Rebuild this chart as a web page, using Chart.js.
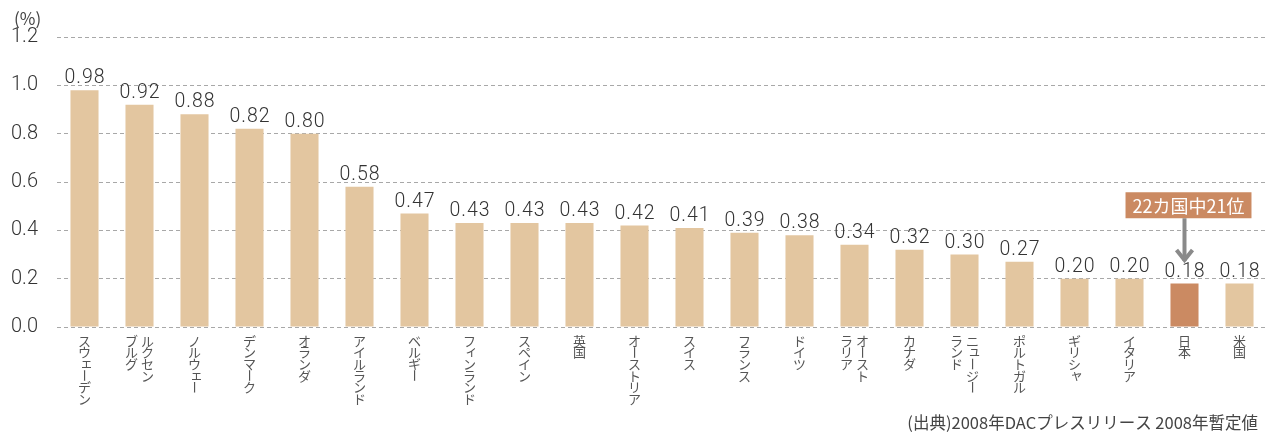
<!DOCTYPE html>
<html lang="ja">
<head>
<meta charset="UTF-8">
<title>ODA 対GNI比</title>
<script src="https://cdn.jsdelivr.net/npm/chart.js"></script>
<style>
  html, body { margin: 0; padding: 0; background: #fff; }
  #wrap { width: 1273px; height: 432px; position: relative; }
</style>
</head>
<body>
<div id="wrap"><canvas id="odaChart"></canvas></div>
<script>
// each label is a list of vertical columns, right column first
const countries = [
  ["スウェーデン"], ["ルクセン", "ブルグ"], ["ノルウェー"], ["デンマーク"], ["オランダ"],
  ["アイルランド"], ["ベルギー"], ["フィンランド"], ["スペイン"], ["英国"],
  ["オーストリア"], ["スイス"], ["フランス"], ["ドイツ"], ["オースト", "ラリア"],
  ["カナダ"], ["ニュージー", "ランド"], ["ポルトガル"], ["ギリシャ"], ["イタリア"],
  ["日本"], ["米国"]
];
const odaRatio = [0.98, 0.92, 0.88, 0.82, 0.80, 0.58, 0.47, 0.43, 0.43, 0.43, 0.42,
  0.41, 0.39, 0.38, 0.34, 0.32, 0.30, 0.27, 0.20, 0.20, 0.18, 0.18];
const yTicks = [0, 0.2, 0.4, 0.6, 0.8, 1.0, 1.2];
const japanIndex = 20;
const rankText = "22カ国中21位";
const rankBoxBottom = 0.45;   // y value where the note box ends
const rankArrowTip = 0.265;   // y value where the arrow points to
const unitText = "(%)";
const sourceText = "(出典)2008年DACプレスリリース 2008年暫定値";

const BAR = "#e3c6a0";
const BAR_JP = "#cb8a62";
const NUM_FONT = "300 19.5px Roboto, 'Liberation Sans', sans-serif";
const JP_FONT = "'Noto Sans CJK JP', sans-serif";
const smallKana = "ァィゥェォッャュョ";

const overlay = {
  id: "overlay",
  afterDraw(chart) {
    const ctx = chart.ctx;
    const x = chart.scales.x, y = chart.scales.y;
    const area = chart.chartArea;
    const bars = chart.getDatasetMeta(0).data;
    ctx.save();

    // value labels
    ctx.font = NUM_FONT;
    ctx.letterSpacing = "1px";
    ctx.fillStyle = "#333";
    ctx.textAlign = "center";
    ctx.textBaseline = "bottom";
    bars.forEach((b, i) => ctx.fillText(odaRatio[i].toFixed(2), b.x + 0.5, b.y - 2));
    ctx.letterSpacing = "0px";

    // vertical category names
    ctx.font = "13px " + JP_FONT;
    ctx.fillStyle = "#555";
    ctx.textBaseline = "middle";
    const pitch = 11.6, top = area.bottom + 8;
    countries.forEach((cols, i) => {
      const cx = x.getPixelForValue(i);
      cols.forEach((col, c) => {
        const colX = cx + (cols.length - 1) * 8 - c * 16;
        [...col].forEach((ch, k) => {
          let px = colX, py = top + pitch * (k + 0.5);
          if (ch === "ー") {
            ctx.save();
            ctx.translate(px, py);
            ctx.rotate(Math.PI / 2);
            ctx.fillText(ch, 0, 0);
            ctx.restore();
            return;
          }
          if (smallKana.includes(ch)) { px += 2; py -= 2; }
          ctx.fillText(ch, px, py);
        });
      });
    });

    // unit and source
    ctx.font = "17px " + JP_FONT;
    ctx.fillStyle = "#444";
    ctx.textAlign = "left";
    ctx.fillText(unitText, 14, 19);
    ctx.font = "16.5px " + JP_FONT;
    ctx.textAlign = "right";
    ctx.textBaseline = "alphabetic";
    ctx.fillText(sourceText, 1258, 429);

    // rank note with arrow
    const jx = x.getPixelForValue(japanIndex);
    const boxBottom = y.getPixelForValue(rankBoxBottom);
    const tip = y.getPixelForValue(rankArrowTip);
    ctx.font = "18px " + JP_FONT;
    const w = ctx.measureText(rankText).width + 14, h = 26;
    ctx.fillStyle = BAR_JP;
    ctx.fillRect(jx - w / 2 + 4, boxBottom - h, w, h);
    ctx.fillStyle = "#fff";
    ctx.textAlign = "center";
    ctx.textBaseline = "middle";
    ctx.fillText(rankText, jx + 4, boxBottom - h / 2 + 1);

    ctx.strokeStyle = "#8a8a8a";
    ctx.lineWidth = 4;
    ctx.beginPath();
    ctx.moveTo(jx, boxBottom);
    ctx.lineTo(jx, tip - 2);
    ctx.stroke();
    ctx.beginPath();
    ctx.moveTo(jx - 8, tip - 13);
    ctx.lineTo(jx, tip - 3);
    ctx.lineTo(jx + 8, tip - 13);
    ctx.stroke();
    ctx.restore();
  }
};

new Chart(document.getElementById("odaChart"), {
  type: "bar",
  data: {
    labels: countries.map((c) => c.join("")),
    datasets: [{
      data: odaRatio,
      backgroundColor: odaRatio.map((v, i) => (i === japanIndex ? BAR_JP : BAR)),
      barPercentage: 0.51,
      categoryPercentage: 1
    }]
  },
  options: {
    responsive: true,
    maintainAspectRatio: false,
    animation: false,
    layout: { padding: { top: 37, right: 6, left: 0, bottom: 0 } },
    plugins: { legend: { display: false }, tooltip: { enabled: false } },
    scales: {
      x: {
        grid: { display: false },
        border: { display: false },
        ticks: { display: false },
        afterFit(scale) { scale.height = 105; }
      },
      y: {
        min: 0,
        max: 1.2,
        afterBuildTicks(scale) { scale.ticks = yTicks.map((v) => ({ value: v })); },
        afterFit(scale) { scale.width = 57; },
        border: { display: false, dash: [4, 3] },
        grid: { color: "#a8a8a8", lineWidth: 1, drawTicks: false },
        ticks: {
          padding: 19,
          color: "#333",
          font: { family: "Roboto, 'Liberation Sans', sans-serif", size: 20, weight: 300 },
          callback: (v) => v.toFixed(1)
        }
      }
    }
  },
  plugins: [overlay]
});
</script>
</body>
</html>
